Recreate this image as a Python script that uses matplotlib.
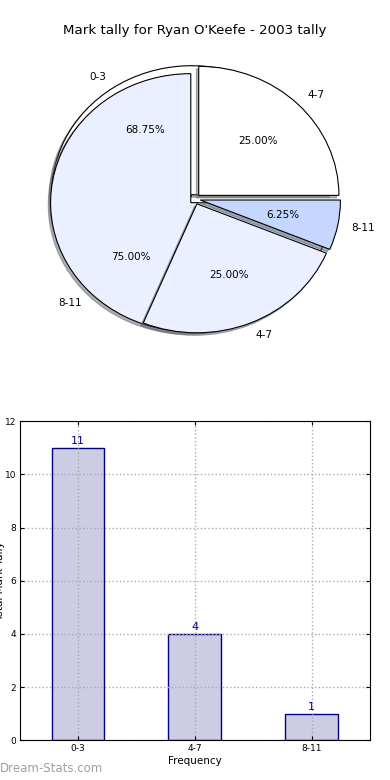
import numpy as np
import matplotlib
matplotlib.use('Agg')
import matplotlib.pyplot as plt
from matplotlib.patches import Shadow

title = "Mark tally for Ryan O'Keefe - 2003 tally"
bins = ['0-3', '4-7', '8-11']
tally = [11, 4, 1]
# second (overlaid) pie as it shows in the picture
over_labels = ['4-7', '8-11']
over_values = [1, 3]

pie_colors = ['white', '#eaf0ff', '#c5d6ff']
bar_face = '#ccccE4'
navy = '#000080'

fig = plt.figure(figsize=(3.9, 7.8), dpi=100)

# ---- pie part
ax = fig.add_axes([0.05, 0.5381, 0.8987, 0.4135])
txt = dict(fontsize=7.5)
wp = dict(edgecolor='black', linewidth=0.8)
shad = dict(ox=-0.012, oy=-0.014, shade=0.6)

w1, t1, p1 = ax.pie(tally, labels=bins, explode=[0.04] * 3, colors=pie_colors,
                    autopct='%1.2f%%', shadow=shad, textprops=txt, wedgeprops=wp)
w2, t2, p2 = ax.pie(over_values, labels=over_labels, explode=[0.04] * 2,
                    colors=pie_colors[:2], autopct='%1.2f%%', shadow=shad,
                    textprops=txt, wedgeprops=wp)

w1[0].set_zorder(1)
for w in w2:
    w.set_zorder(1.5)
for w in w1[1:]:
    w.set_zorder(2)
for p in ax.patches:
    if isinstance(p, Shadow):
        p.set_zorder(np.nextafter(p.patch.get_zorder(), -np.inf))

ax.set_aspect('auto')
ax.set_xlim(-1.25, 1.25)
ax.set_ylim(-1.25, 1.25)

fig.text(194.75 / 390, 1 - 34 / 780, title, ha='center', va='baseline', fontsize=9.6)

# ---- bar part
bx = fig.add_axes([0.05, 0.0509, 0.8987, 0.409])
x = np.arange(len(bins))
bars = bx.bar(x, tally, width=0.45, color=bar_face, edgecolor=navy, linewidth=1)
bx.bar_label(bars, padding=1.5, color=navy, fontsize=8)
bx.set_xlim(-0.5, 2.5)
bx.set_ylim(0, 12)
bx.set_xticks(x)
bx.set_xticklabels(bins)
bx.set_yticks(range(0, 13, 2))
bx.tick_params(direction='in', top=True, right=True, labelsize=6.5, pad=2.5, length=3)
bx.set_axisbelow(False)
bx.grid(True, linestyle=':', color='#aaaaaa', linewidth=1)
for s in bx.spines.values():
    s.set_zorder(3)
bx.set_xlabel('Frequency', fontsize=7.5, labelpad=2)
# the y label sits mostly off the left edge, as in the source image
bx.set_ylabel('Total Mark Tally', fontsize=7.5)
bx.yaxis.set_label_coords(-0.042, 0.5)

fig.text(0, 1 - 769 / 780, 'Dream-Stats.com', ha='left', va='center',
         fontsize=8.5, color='#a0a0a0')

plt.savefig('out.png', dpi=100)
